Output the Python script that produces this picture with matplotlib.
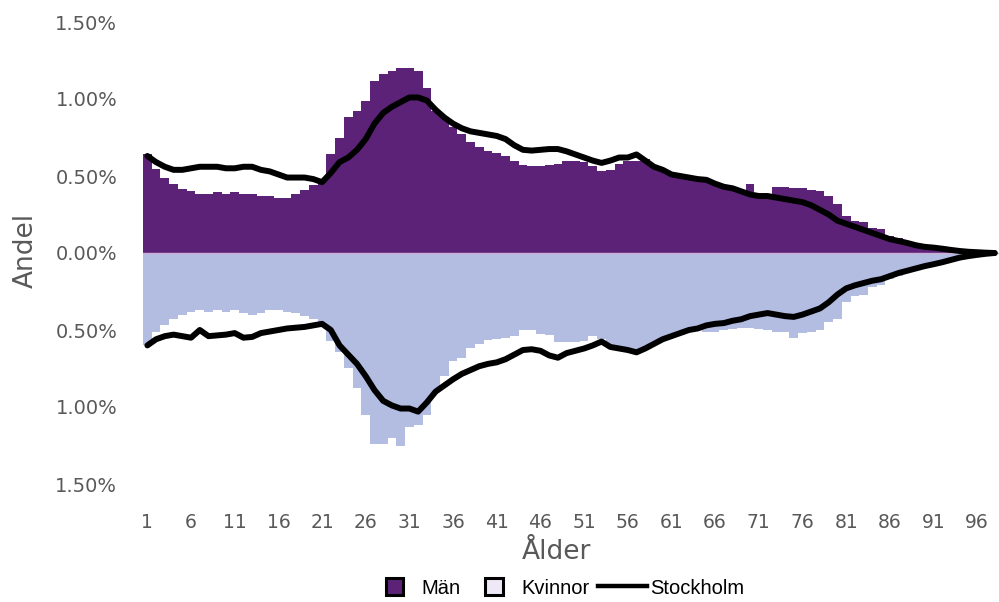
import matplotlib
matplotlib.use('Agg')
import matplotlib.pyplot as plt
from matplotlib.patches import Patch, Rectangle
from matplotlib.lines import Line2D
from matplotlib.legend_handler import HandlerPatch
from matplotlib.ticker import FuncFormatter

ages = list(range(1, 99))

# andel män per ålder (%)
men = [
    0.64, 0.545, 0.49, 0.45, 0.415, 0.40, 0.38, 0.38, 0.395, 0.38,
    0.395, 0.38, 0.38, 0.37, 0.37, 0.355, 0.36, 0.38, 0.41, 0.44,
    0.47, 0.64, 0.75, 0.88, 0.92, 0.99, 1.12, 1.16, 1.18, 1.20,
    1.20, 1.18, 1.07, 0.92, 0.88, 0.82, 0.77, 0.72, 0.69, 0.66,
    0.65, 0.63, 0.60, 0.57, 0.565, 0.565, 0.57, 0.58, 0.60, 0.60,
    0.59, 0.565, 0.53, 0.54, 0.58, 0.60, 0.60, 0.61, 0.56, 0.54,
    0.51, 0.49, 0.48, 0.47, 0.46, 0.44, 0.43, 0.42, 0.41, 0.45,
    0.38, 0.38, 0.43, 0.43, 0.42, 0.42, 0.41, 0.40, 0.37, 0.32,
    0.24, 0.21, 0.20, 0.16, 0.155, 0.11, 0.10, 0.075, 0.055, 0.04,
    0.03, 0.022, 0.015, 0.01, 0.007, 0.005, 0.003, 0.002]

# andel kvinnor per ålder (%)
women = [
    0.60, 0.51, 0.47, 0.43, 0.40, 0.38, 0.37, 0.38, 0.37, 0.38,
    0.37, 0.39, 0.40, 0.39, 0.37, 0.37, 0.38, 0.39, 0.41, 0.43,
    0.46, 0.57, 0.64, 0.745, 0.875, 1.05, 1.24, 1.24, 1.20, 1.25,
    1.13, 1.12, 1.05, 0.90, 0.80, 0.70, 0.68, 0.62, 0.59, 0.565,
    0.56, 0.55, 0.54, 0.50, 0.50, 0.525, 0.53, 0.58, 0.58, 0.58,
    0.57, 0.54, 0.56, 0.60, 0.62, 0.63, 0.645, 0.62, 0.59, 0.56,
    0.54, 0.52, 0.50, 0.50, 0.51, 0.51, 0.50, 0.495, 0.49, 0.49,
    0.495, 0.50, 0.51, 0.51, 0.55, 0.52, 0.51, 0.50, 0.45, 0.43,
    0.32, 0.28, 0.27, 0.22, 0.21, 0.17, 0.15, 0.12, 0.10, 0.08,
    0.065, 0.05, 0.035, 0.025, 0.015, 0.01, 0.006, 0.003]

# Stockholm, män
stock_m = [
    0.63, 0.59, 0.56, 0.54, 0.54, 0.55, 0.56, 0.56, 0.56, 0.55,
    0.55, 0.56, 0.56, 0.54, 0.53, 0.51, 0.49, 0.49, 0.49, 0.48,
    0.46, 0.52, 0.59, 0.62, 0.67, 0.74, 0.84, 0.91, 0.95, 0.98,
    1.01, 1.01, 0.99, 0.93, 0.88, 0.84, 0.81, 0.79, 0.78, 0.77,
    0.76, 0.74, 0.70, 0.67, 0.665, 0.67, 0.675, 0.675, 0.66, 0.64,
    0.62, 0.60, 0.585, 0.60, 0.62, 0.62, 0.64, 0.60, 0.56, 0.54,
    0.51, 0.50, 0.49, 0.48, 0.475, 0.45, 0.43, 0.42, 0.40, 0.38,
    0.37, 0.37, 0.36, 0.35, 0.34, 0.33, 0.31, 0.28, 0.25, 0.21,
    0.19, 0.17, 0.15, 0.13, 0.11, 0.09, 0.078, 0.065, 0.05, 0.04,
    0.035, 0.028, 0.02, 0.013, 0.008, 0.005, 0.002, 0.0]

# Stockholm, kvinnor
stock_w = [
    0.60, 0.56, 0.54, 0.53, 0.54, 0.55, 0.50, 0.54, 0.535, 0.53,
    0.52, 0.55, 0.545, 0.52, 0.51, 0.50, 0.49, 0.485, 0.48, 0.47,
    0.46, 0.50, 0.60, 0.66, 0.72, 0.80, 0.89, 0.96, 0.99, 1.01,
    1.01, 1.03, 0.97, 0.90, 0.86, 0.82, 0.785, 0.76, 0.735, 0.72,
    0.71, 0.69, 0.66, 0.63, 0.625, 0.635, 0.665, 0.68, 0.65, 0.635,
    0.62, 0.60, 0.575, 0.61, 0.62, 0.63, 0.645, 0.62, 0.59, 0.56,
    0.54, 0.52, 0.50, 0.49, 0.47, 0.46, 0.455, 0.44, 0.43, 0.41,
    0.40, 0.39, 0.40, 0.41, 0.415, 0.40, 0.38, 0.36, 0.32, 0.27,
    0.23, 0.21, 0.195, 0.18, 0.17, 0.15, 0.13, 0.115, 0.10, 0.085,
    0.073, 0.06, 0.045, 0.03, 0.02, 0.012, 0.005, 0.0]

xticks = list(range(1, 97, 5))

PURPLE = '#5B2278'
LAVENDER = '#B3BCE1'
GREY = '#595959'


class SquareHandler(HandlerPatch):
    # square legend box, centered in the (wider) handle area
    def create_artists(self, legend, orig_handle, xdescent, ydescent,
                       width, height, fontsize, trans):
        side = height * 1.05
        x0 = -xdescent + (width - side) / 2
        y0 = -ydescent + (height - side) / 2
        r = Rectangle((x0, y0), side, side, facecolor=orig_handle.get_facecolor(),
                      edgecolor='black', linewidth=2.2, transform=trans)
        return [r]


fig = plt.figure(figsize=(9.99, 6.02), dpi=100)
ax = fig.add_axes([143 / 999, 1 - 484 / 602, 856 / 999, 462 / 602])

edges = [a - 0.5 for a in ages] + [ages[-1] + 0.5]
ax.stairs(men, edges, baseline=0, fill=True, color=PURPLE)
ax.stairs([-v for v in women], edges, baseline=0, fill=True, color=LAVENDER)
ax.axhline(0, color='#CDAFD6', linewidth=1.0)
ax.plot(ages, stock_m, color='black', linewidth=4.3, solid_capstyle='round')
ax.plot(ages, [-v for v in stock_w], color='black', linewidth=4.3, solid_capstyle='round')

ax.set_xlim(0.5, 98.5)
ax.set_ylim(-1.5, 1.5)
ax.set_yticks([-1.5, -1.0, -0.5, 0, 0.5, 1.0, 1.5])
ax.yaxis.set_major_formatter(FuncFormatter(lambda v, p: f'{abs(v):.2f}%'))
ax.set_xticks(xticks)
ax.set_xticklabels([str(a) for a in xticks])
ax.tick_params(length=0)
ax.tick_params(axis='y', labelsize=14, labelcolor=GREY, pad=18.5)
ax.tick_params(axis='x', labelsize=13.5, labelcolor=GREY, pad=21)
for s in ax.spines.values():
    s.set_visible(False)

fig.text(556 / 999, 1 - 552 / 602, 'Ålder', ha='center', va='center',
         fontsize=19, color=GREY)
fig.text(26 / 999, 1 - 250 / 602, 'Andel', ha='center', va='center',
         rotation=90, fontsize=19, color=GREY)

handles = [
    Patch(facecolor=PURPLE, label='Män'),
    Patch(facecolor='#EFE8F6', label='Kvinnor'),
    Line2D([0], [0], color='black', linewidth=3.2, label='Stockholm'),
]
fig.legend(handles=handles, loc='center', bbox_to_anchor=(557 / 999, 1 - 588 / 602),
           ncol=3, frameon=False, handlelength=2.4, handleheight=0.9,
           handletextpad=0.15, columnspacing=0.45,
           handler_map={Patch: SquareHandler()},
           prop={'family': 'Liberation Sans', 'size': 14.5})

fig.savefig('out.png', dpi=100)
